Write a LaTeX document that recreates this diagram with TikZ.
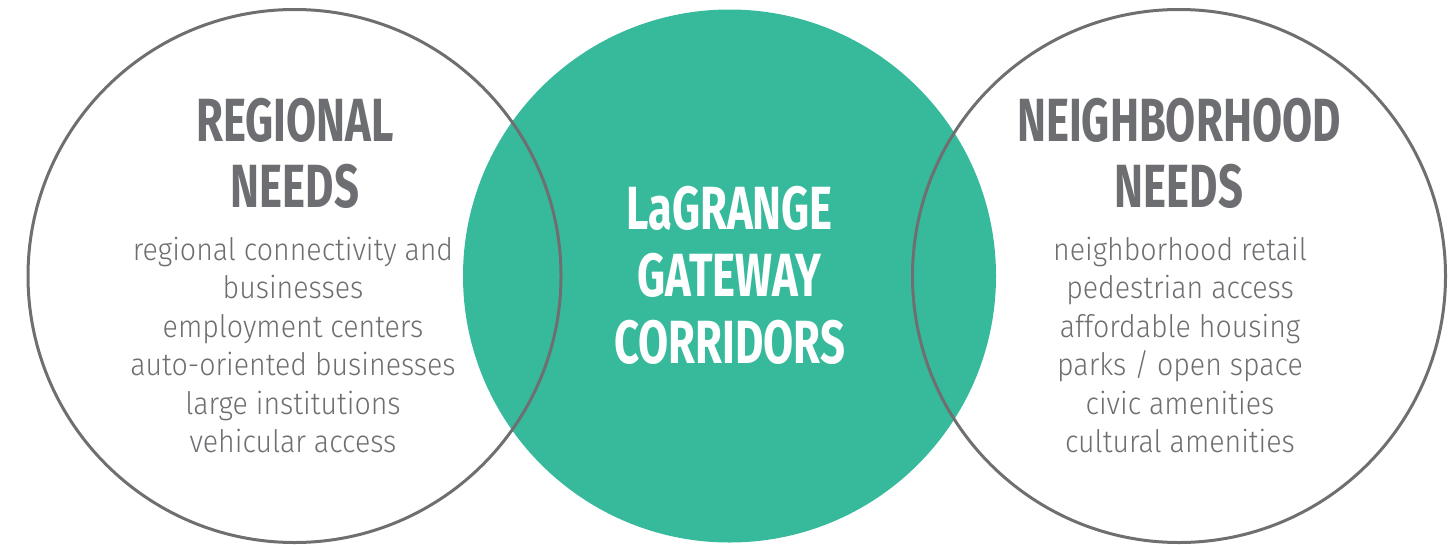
\documentclass[tikz,border=0pt]{standalone}
\usepackage{fontspec}
\setmainfont{Fira Sans}
\newfontfamily\headfont{Fira Sans}[FakeStretch=0.715]
\newfontfamily\bodyfont{Fira Sans Light}[FakeStretch=0.92]
\definecolor{ringgray}{HTML}{6F6F72}
\definecolor{txtgray}{HTML}{6D6E71}
\definecolor{teal}{HTML}{37BA9B}
\tikzset{
  ring/.style={draw=ringgray, line width=3pt},
  hub/.style={fill=teal},
  headtxt/.style={anchor=base, inner sep=0pt, text=txtgray, font=\headfont\bfseries\fontsize{61}{66}\selectfont},
  hubtxt/.style={anchor=base, inner sep=0pt, text=white, font=\headfont\bfseries\fontsize{61}{66}\selectfont},
  bodytxt/.style={anchor=base, inner sep=0pt, text=txtgray, font=\bodyfont\fontsize{31}{38.5}\selectfont}
}
\begin{document}
\begin{tikzpicture}[x=1pt,y=-1pt]
\useasboundingbox (0,0) rectangle (1454,544);
% circles
\fill[hub] (729.5,276) circle (266.5);
\draw[ring] (294.5,276) circle (266.5);
\draw[ring] (1179,276) circle (266.5);
% left texts
\node[headtxt] (lh1) at (295,141) {REGIONAL};
\node[headtxt] (lh2) at (295,207.5) {NEEDS};
\node[bodytxt] (lb1) at (293,260) {regional connectivity and};
\node[bodytxt] (lb2) at (293,298.5) {businesses};
\node[bodytxt] (lb3) at (293,337) {employment centers};
\node[bodytxt] (lb4) at (293,375.5) {auto-oriented businesses};
\node[bodytxt] (lb5) at (293,414) {large institutions};
\node[bodytxt] (lb6) at (293,452.5) {vehicular access};
% middle texts
\node[hubtxt] (mh1) at (729.5,229) {LaGRANGE};
\node[hubtxt] (mh2) at (729.5,296) {GATEWAY};
\node[hubtxt] (mh3) at (729.5,363) {CORRIDORS};
% right texts
\node[headtxt] (rh1) at (1179,141) {NEIGHBORHOOD};
\node[headtxt] (rh2) at (1179,207.5) {NEEDS};
\node[bodytxt] (rb1) at (1180,260) {neighborhood retail};
\node[bodytxt] (rb2) at (1180,298.5) {pedestrian access};
\node[bodytxt] (rb3) at (1180,337) {affordable housing};
\node[bodytxt] (rb4) at (1180,375.5) {parks / open space};
\node[bodytxt] (rb5) at (1180,414) {civic amenities};
\node[bodytxt] (rb6) at (1180,452.5) {cultural amenities};
\end{tikzpicture}
\end{document}
